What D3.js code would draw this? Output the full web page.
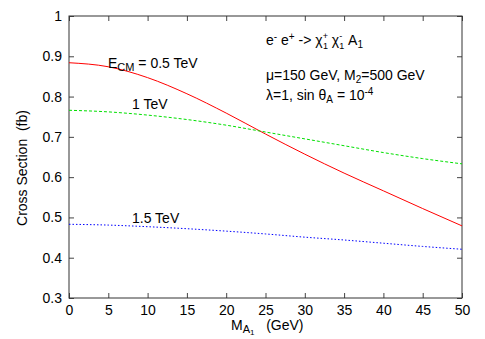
<!DOCTYPE html>
<html><head><meta charset="utf-8">
<script src="https://cdn.jsdelivr.net/npm/d3@7"></script>
<style>body{margin:0;background:#fff}svg{display:block}text{font-family:"Liberation Sans",Arial,sans-serif;fill:#000}</style>
</head><body>
<script>
const massA = [0,5,10,15,20,25,30,35,40,45,50];
const sigma05 = [0.884,0.874,0.847,0.807,0.759,0.707,0.657,0.610,0.566,0.522,0.479];
const sigma1  = [0.766,0.762,0.754,0.743,0.729,0.712,0.695,0.678,0.661,0.646,0.633];
const sigma15 = [0.483,0.481,0.477,0.472,0.466,0.459,0.451,0.444,0.436,0.428,0.421];
const xTicks = [0,5,10,15,20,25,30,35,40,45,50];
const yTicks = [0.3,0.4,0.5,0.6,0.7,0.8,0.9,1];

const W=485,H=339, L=69, R=462, T=16, B=298;
const svg=d3.select("body").append("svg").attr("width",W).attr("height",H);
const x=d3.scaleLinear().domain([0,50]).range([L,R]);
const y=d3.scaleLinear().domain([0.3,1]).range([B,T]);
const fs=14;

const g=svg.append("g");
g.append("g").attr("transform",`translate(0,${B})`).call(d3.axisBottom(x).tickValues(xTicks).tickSizeInner(-5).tickSizeOuter(0).tickPadding(7).tickFormat(d3.format("d")));
g.append("g").attr("transform",`translate(0,${T})`).call(d3.axisTop(x).tickValues(xTicks).tickSizeInner(-5).tickSizeOuter(0).tickFormat(""));
g.append("g").attr("transform",`translate(${L},0)`).call(d3.axisLeft(y).tickValues(yTicks).tickSizeInner(-5).tickSizeOuter(0).tickPadding(7).tickFormat(d=>d===1?"1":d3.format(".1f")(d)));
g.append("g").attr("transform",`translate(${R},0)`).call(d3.axisRight(y).tickValues(yTicks).tickSizeInner(-5).tickSizeOuter(0).tickFormat(""));
g.selectAll(".domain").remove();
g.selectAll(".tick line").attr("stroke","#444");
g.selectAll(".tick text").style("font-size",fs+"px").style("font-family","Liberation Sans, Arial, sans-serif").attr("fill","#000");
svg.append("rect").attr("x",L).attr("y",T).attr("width",R-L).attr("height",B-T).attr("fill","none").attr("stroke","#333").attr("stroke-width",1);

const line=d3.line().x((d,i)=>x(massA[i])).y(d=>y(d)).curve(d3.curveMonotoneX);
svg.append("path").datum(sigma05).attr("d",line).attr("fill","none").attr("stroke","#ff0000").attr("stroke-width",1);
svg.append("path").datum(sigma1).attr("d",line).attr("fill","none").attr("stroke","#00e000").attr("stroke-width",1).attr("stroke-dasharray","3,2");
svg.append("path").datum(sigma15).attr("d",line).attr("fill","none").attr("stroke","#0000ff").attr("stroke-width",1).attr("stroke-dasharray","1.5,2");

function txt(px,py,anchor){return svg.append("text").attr("x",px).attr("y",py).attr("text-anchor",anchor||"start").style("font-size",fs+"px");}
let t=txt(108,68); t.append("tspan").text("E"); t.append("tspan").text("CM").attr("dy",3).style("font-size","11px"); t.append("tspan").text(" = 0.5 TeV").attr("dy",-3);
txt(132,109).text("1 TeV");
txt(132,223).text("1.5 TeV");

t=txt(266,45);
t.append("tspan").text("e");t.append("tspan").text("-").attr("dy",-5).style("font-size","10px");
t.append("tspan").text(" e").attr("dy",5);t.append("tspan").text("+").attr("dy",-5).style("font-size","10px");
t.append("tspan").text(" -> χ").attr("dy",5);
t.append("tspan").text("+").attr("dy",-6).style("font-size","9px");
t.append("tspan").text("1").attr("dx",-5).attr("dy",10).style("font-size","9px");
t.append("tspan").text(" χ").attr("dy",-4);
t.append("tspan").text("-").attr("dy",-6).style("font-size","9px");
t.append("tspan").text("1").attr("dx",-3).attr("dy",10).style("font-size","9px");
t.append("tspan").text(" A").attr("dy",-4);
t.append("tspan").text("1").attr("dy",3).style("font-size","10px");

t=txt(266,80);
t.append("tspan").text("μ=150 GeV, M");t.append("tspan").text("2").attr("dy",3).style("font-size","10px");t.append("tspan").text("=500 GeV").attr("dy",-3);
t=txt(266,100);
t.append("tspan").text("λ=1, sin θ");t.append("tspan").text("A").attr("dy",3).style("font-size","10px");t.append("tspan").text(" = 10").attr("dy",-3);t.append("tspan").text("-4").attr("dy",-5).style("font-size","10px");

t=txt(231,330).attr("xml:space","preserve").style("white-space","pre");
t.append("tspan").text("M");t.append("tspan").text("A").attr("dy",3).style("font-size","11px");t.append("tspan").text("1").attr("dy",2).style("font-size","8px");t.append("tspan").text("   (GeV)").attr("dy",-5);

svg.append("text").attr("transform","translate(27,168) rotate(-90)").attr("text-anchor","middle").style("font-size",fs+"px").attr("xml:space","preserve").style("white-space","pre").text("Cross Section  (fb)");
</script>
</body></html>
